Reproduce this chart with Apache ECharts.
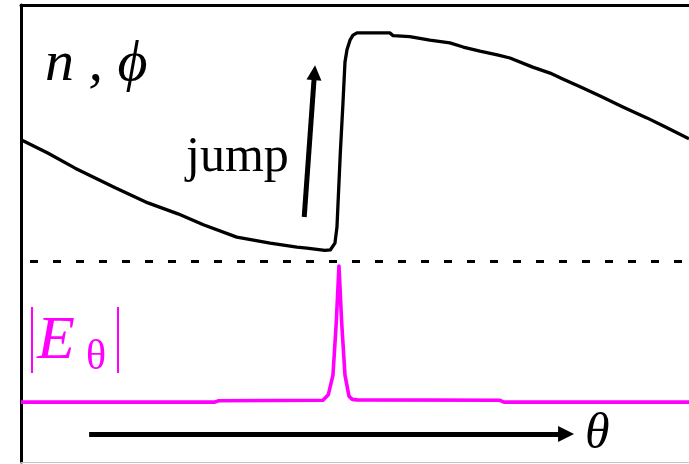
<!DOCTYPE html>
<html>
<head>
<meta charset="utf-8">
<script src="https://cdn.jsdelivr.net/npm/echarts@6/dist/echarts.min.js"></script>
<style>
  html, body { margin: 0; padding: 0; background: #fff; }
  #chart { width: 689px; height: 464px; }
</style>
</head>
<body>
<div id="chart"></div>
<script>
// Refractive index / phase n, phi versus angle theta (arbitrary units 0..100)
const thetaN = [0, 4.0, 8.1, 14.1, 19.0, 23.5, 27.3, 32.3, 37.3, 41.3, 42.8, 45.5, 46.3, 47.0, 47.3, 47.8, 48.2, 48.5, 48.8, 49.25, 49.7, 50.3, 55.2, 55.7, 58.2, 61.2, 64.2, 66.2, 68.7, 71.3, 73.2, 76.6, 79.2, 81.1, 83.7, 86.7, 90.1, 93.7, 96.1, 97.6, 100];
const nPhi   = [70.5, 67.6, 64.3, 60.0, 56.7, 54.3, 51.9, 49.2, 47.9, 47.0, 46.8, 46.3, 46.4, 47.9, 51.4, 67.6, 78.6, 87.5, 90.2, 92.3, 93.4, 93.9, 93.9, 93.3, 93.1, 92.3, 91.7, 90.8, 89.9, 89.1, 88.4, 86.4, 85.1, 83.8, 82.1, 80.1, 77.7, 75.3, 73.6, 72.5, 70.7];

// Field magnitude |E_theta| with its resonance peak at the jump
const thetaE = [0, 29.0, 29.6, 45.2, 46.0, 46.7, 47.2, 47.6, 48.0, 48.5, 49.1, 49.6, 50.3, 71.7, 72.3, 100];
const eAbs   = [13.1, 13.1, 13.4, 13.5, 14.7, 19.0, 30.6, 42.9, 30.6, 19.0, 14.4, 13.7, 13.6, 13.5, 13.1, 13.1];

// Dashed reference level
const thetaRef = [1.35, 100];
const refLevel = 43.9;

// Arrows: the "jump" arrow and the theta direction arrow
const jumpArrow  = [[42.4, 53.6], [43.94, 85.2]];
const thetaArrow = [[10.2, 6.1], [81.6, 6.1]];

const pair = (xs, ys) => xs.map((x, i) => [x, ys[i]]);

const serif = '"Liberation Serif", "Times New Roman", "DejaVu Serif", serif';
const MAG = '#ff00ff';

const chart = echarts.init(document.getElementById('chart'), null, { renderer: 'canvas' });

chart.setOption({
  animation: false,
  backgroundColor: '#ffffff',
  grid: { left: 21, right: 0, top: 5, bottom: 2, containLabel: false },
  xAxis: [
    {
      type: 'value', min: 0, max: 100, position: 'bottom',
      axisLine: { show: true, onZero: false, lineStyle: { color: '#c4c4c4', width: 1 } },
      axisTick: { show: false }, axisLabel: { show: false }, splitLine: { show: false }
    },
    {
      type: 'value', min: 0, max: 100, position: 'top',
      axisLine: { show: true, onZero: false, lineStyle: { color: '#000', width: 3 } },
      axisTick: { show: false }, axisLabel: { show: false }, splitLine: { show: false }
    }
  ],
  yAxis: {
    type: 'value', min: 0, max: 100,
    axisLine: { show: true, onZero: false, lineStyle: { color: '#000', width: 3 } },
    axisTick: { show: false }, axisLabel: { show: false }, splitLine: { show: false }
  },
  series: [
    {
      name: 'ref', type: 'line', data: pair(thetaRef, thetaRef.map(() => refLevel)),
      symbol: 'none', silent: true,
      lineStyle: { color: '#000', width: 3, type: [8, 15] }
    },
    {
      name: 'n, phi', type: 'line', data: pair(thetaN, nPhi),
      symbol: 'none', smooth: false, silent: true,
      lineStyle: { color: '#000', width: 3.3, join: 'round' }
    },
    {
      name: '|E theta|', type: 'line', data: pair(thetaE, eAbs),
      symbol: 'none', smooth: false, silent: true,
      lineStyle: { color: MAG, width: 3.6, join: 'round' }
    },
    {
      name: 'jump arrow', type: 'lines', coordinateSystem: 'cartesian2d', silent: true,
      symbol: ['none', 'triangle'], symbolSize: [18, 15],
      lineStyle: { color: '#000', width: 5, opacity: 1 },
      data: [{ coords: jumpArrow }]
    },
    {
      name: 'theta arrow', type: 'lines', coordinateSystem: 'cartesian2d', silent: true,
      symbol: ['none', 'triangle'], symbolSize: [16, 16],
      lineStyle: { color: '#000', width: 5, opacity: 1 },
      data: [{ coords: thetaArrow }]
    }
  ],
  graphic: [
    { type: 'text', x: 45, y: 65, style: { text: 'n , \u03D5', font: 'italic 58px ' + serif, fill: '#000', align: 'left', verticalAlign: 'middle' } },
    { type: 'text', x: 186, y: 158, style: { text: 'jump', font: '50px ' + serif, fill: '#000', align: 'left', verticalAlign: 'middle' } },
    { type: 'text', x: 37, y: 342, style: { text: 'E', font: 'italic 62px ' + serif, fill: MAG, align: 'left', verticalAlign: 'middle' } },
    { type: 'text', x: 86, y: 358, style: { text: '\u03B8', font: '42px ' + serif, fill: MAG, align: 'left', verticalAlign: 'middle' } },
    { type: 'line', shape: { x1: 32, y1: 307, x2: 32, y2: 373 }, style: { stroke: MAG, lineWidth: 2 } },
    { type: 'line', shape: { x1: 118, y1: 307, x2: 118, y2: 373 }, style: { stroke: MAG, lineWidth: 2 } },
    { type: 'text', x: 585, y: 435, style: { text: '\u03B8', font: 'italic 50px ' + serif, fill: '#000', align: 'left', verticalAlign: 'middle' } }
  ]
});
</script>
</body>
</html>
